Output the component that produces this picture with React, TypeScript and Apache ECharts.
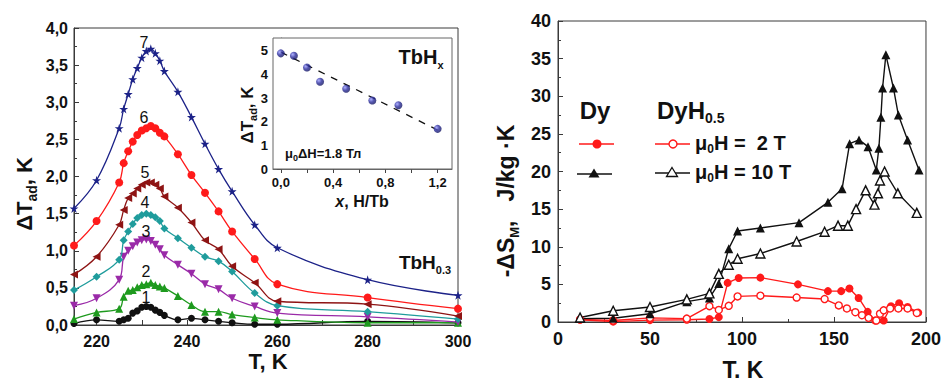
import React, { useEffect, useRef } from "react";
import * as echarts from "echarts";

const FONT = "'Liberation Sans', Arial, Helvetica, sans-serif";

// ---------- Left panel: TbH0.3, ΔTad(T) ----------
const T_MAIN = [215, 220, 225, 226, 227, 228, 229, 230, 231, 232, 233, 234, 235, 238, 241, 244, 247, 250, 255, 260, 280, 300];
const CURVE_1 = [0.02, 0.07, 0.05, 0.07, 0.09, 0.16, 0.19, 0.24, 0.25, 0.24, 0.2, 0.17, 0.13, 0.07, 0.09, 0.07, 0.05, 0.03, 0.01, 0.01, 0.05, 0.03];
const CURVE_2 = [0.08, 0.17, 0.22, 0.38, 0.46, 0.47, 0.51, 0.54, 0.55, 0.57, 0.54, 0.52, 0.5, 0.39, 0.27, 0.18, 0.18, 0.14, 0.1, 0.07, 0.03, 0.03];
const CURVE_3 = [0.26, 0.36, 0.61, 0.92, 1.0, 1.06, 1.11, 1.14, 1.15, 1.13, 1.08, 1.02, 0.94, 0.81, 0.69, 0.55, 0.48, 0.36, 0.25, 0.16, 0.11, 0.04];
const CURVE_4 = [0.47, 0.65, 0.88, 1.14, 1.26, 1.36, 1.44, 1.48, 1.5, 1.48, 1.45, 1.4, 1.3, 1.17, 1.04, 0.92, 0.86, 0.72, 0.43, 0.26, 0.18, 0.08];
const CURVE_5 = [0.68, 0.92, 1.35, 1.55, 1.71, 1.77, 1.84, 1.89, 1.92, 1.92, 1.89, 1.84, 1.73, 1.58, 1.38, 1.14, 1.02, 0.79, 0.57, 0.32, 0.28, 0.12];
const CURVE_6 = [1.07, 1.4, 1.92, 2.18, 2.34, 2.47, 2.56, 2.62, 2.65, 2.68, 2.65, 2.59, 2.54, 2.3, 2.02, 1.78, 1.53, 1.26, 0.89, 0.55, 0.37, 0.22];
const CURVE_7 = [1.57, 1.95, 2.65, 2.91, 3.11, 3.31, 3.46, 3.6, 3.69, 3.72, 3.66, 3.56, 3.42, 3.14, 2.8, 2.44, 2.1, 1.8, 1.35, 1.04, 0.61, 0.4];
const CURVE_LABELS = ["1", "2", "3", "4", "5", "6", "7"];
const MAIN_X_LABELS = [220, 240, 260, 280, 300];
const MAIN_X_TICKS = [220, 230, 240, 250, 260, 270, 280, 290, 300];

// ---------- Inset: TbHx, ΔTad(x) ----------
const INSET_X = [0, 0.1, 0.2, 0.3, 0.5, 0.7, 0.9, 1.2];
const INSET_Y = [4.9, 4.8, 4.3, 3.7, 3.4, 2.9, 2.7, 1.7];
const FIT_X = [0, 1.2];
const FIT_Y = [4.95, 1.65];
const INSET_X_LABELS = [0, 0.4, 0.8, 1.2];
const INSET_X_TICKS = [0, 0.2, 0.4, 0.6, 0.8, 1.0, 1.2];
const INSET_Y_LABELS = [0, 1, 2, 3, 4, 5];

// ---------- Right panel: -ΔSM(T) ----------
const DY_2T_T = [12, 30, 50, 70, 82.3, 87.4, 92.2, 98.2, 110, 130.4, 146.7, 153.9, 158.4, 163.4, 168.3, 172.4, 177, 181, 185.4, 190, 195.8];
const DY_2T_V = [0.3, 0.05, 0.25, 0.3, 0.4, 0.65, 5.2, 5.85, 5.9, 5.0, 4.1, 4.1, 4.45, 3.2, 1.35, 0.2, 0.2, 2.1, 2.5, 2.0, 1.25];
const DYH_2T_T = [12, 30, 50, 70, 82.3, 87.4, 92.8, 97.6, 110, 129.7, 144.9, 152.6, 157, 161.6, 165.2, 168.8, 173, 175, 177, 180.5, 185, 190, 195];
const DYH_2T_V = [0.35, 0.2, 0.55, 0.45, 2.1, 1.6, 2.15, 3.4, 3.5, 3.25, 3.05, 2.2, 1.8, 1.3, 0.9, 0.55, 0.2, 1.1, 1.55, 1.8, 1.8, 1.8, 1.2];
const DY_10T_T = [12, 30, 50, 70, 82.3, 87.4, 92.8, 97.6, 110, 131, 146.7, 154.4, 158.5, 163.6, 168.5, 173, 174.4, 175.5, 176.4, 178.2, 182.3, 185, 190, 196.2];
const DY_10T_V = [0.45, 0.5, 1.1, 2.7, 3.2, 5.1, 9.75, 12.1, 12.5, 13.2, 15.9, 17.7, 23.7, 24.2, 23.3, 20.2, 23.1, 27.2, 31.1, 35.5, 31.1, 27.5, 24.2, 20.2];
const DYH_10T_T = [12, 30, 50, 70, 82.3, 87.4, 92.8, 97.6, 110, 129.7, 144.9, 152.2, 157.5, 162, 167.2, 172, 173.9, 175, 177.5, 184.7, 195];
const DYH_10T_V = [0.6, 1.5, 2.0, 3.0, 3.8, 6.4, 7.6, 8.4, 9.1, 10.7, 12.0, 12.8, 12.8, 15.0, 17.5, 15.6, 17.1, 18.8, 20.0, 17.1, 14.5];

const zip = (xs: number[], ys: number[]) => xs.map((x, i) => [x, ys[i]]);
const comma = (v: number, d: number) => v.toFixed(d).replace(".", ",");

const STAR = "path://M50,0 L61,35 L98,35 L68,57 L79,91 L50,70 L21,91 L32,57 L2,35 L39,35 Z";
const AXIS_COLOR = "#3a3a3a";

function buildOption(): any {
  const curves = [CURVE_1, CURVE_2, CURVE_3, CURVE_4, CURVE_5, CURVE_6, CURVE_7];
  const styles = [
    { color: "#111111", symbol: "circle", size: 7, rot: 0 },
    { color: "#1e9a1e", symbol: "triangle", size: 8, rot: 0 },
    { color: "#9a2aa8", symbol: "triangle", size: 8, rot: 180 },
    { color: "#1f9c9c", symbol: "diamond", size: 8, rot: 0 },
    { color: "#8e1414", symbol: "triangle", size: 8, rot: 90 },
    { color: "#ff1a1a", symbol: "circle", size: 8, rot: 0 },
    { color: "#1c2288", symbol: STAR, size: 9, rot: 0 },
  ];
  const mainSeries = curves.map((c, i) => ({
    type: "line",
    name: CURVE_LABELS[i],
    xAxisIndex: 0,
    yAxisIndex: 0,
    data: zip(T_MAIN, c),
    smooth: 0.4,
    symbol: styles[i].symbol,
    symbolSize: styles[i].size,
    symbolRotate: styles[i].rot,
    lineStyle: { color: styles[i].color, width: 1.3 },
    itemStyle: { color: styles[i].color },
    z: 3 + i,
  }));

  const tickLabel = (size: number, margin: number) => ({
    fontFamily: FONT,
    fontSize: size,
    fontWeight: "bold",
    color: "#111",
    margin,
  });
  const axisLine = { show: true, lineStyle: { color: AXIS_COLOR, width: 1 } };

  const rightLine = (t: number[], v: number[], color: string, symbol: string, size: number, open: boolean) => ({
    type: "line",
    xAxisIndex: 2,
    yAxisIndex: 2,
    data: zip(t, v),
    symbol,
    symbolSize: size,
    lineStyle: { color, width: 1.4 },
    itemStyle: open
      ? { color: "#ffffff", borderColor: color, borderWidth: 1.4 }
      : { color, borderColor: color, borderWidth: 0 },
    z: 5,
  });

  const txt = (x: number, y: number, text: string, rich: any, extra: any = {}) => ({
    type: "text",
    x,
    y,
    z: 100,
    ...extra,
    style: { text, rich, fontFamily: FONT, align: "center", verticalAlign: "middle", fill: "#111", ...(extra.style || {}) },
  });

  const rb = (size: number, lh: number, weight = "bold", extra: any = {}) => ({
    fontFamily: FONT,
    fontSize: size,
    fontWeight: weight,
    lineHeight: lh,
    fill: "#111",
    ...extra,
  });

  const num = (x: number, y: number, t: string) => txt(x, y, t, {}, { style: { fontSize: 16, fill: "#111" } });

  const graphics: any[] = [
    // left panel titles
    txt(24, 194, "{a|ΔT}{s|ad}{a|, K}", { a: rb(22, 30), s: rb(14, 14, "bold", { verticalAlign: "bottom" }) }, { rotation: Math.PI / 2 }),
    txt(268, 361, "{a|T, K}", { a: rb(22, 22) }),
    // curve numbers
    num(144, 42, "7"),
    num(144, 117, "6"),
    num(145, 172, "5"),
    num(145, 202, "4"),
    num(146, 231, "3"),
    num(146, 271, "2"),
    num(146, 297, "1"),
    txt(425, 262, "{a|TbH}{s|0.3}", { a: rb(19, 26), s: rb(11, 11, "bold", { verticalAlign: "bottom" }) }),
    // inset texts
    txt(247, 115, "{a|ΔT}{s|ad}{a|, K}", { a: rb(17, 22), s: rb(11, 11, "bold", { verticalAlign: "bottom" }) }, { rotation: Math.PI / 2 }),
    txt(362, 201, "{i|x}{a|, H/Tb}", { a: rb(16, 20), i: rb(16, 20, "bold", { fontStyle: "italic" }) }),
    txt(421, 57, "{a|TbH}{s|x}", { a: rb(20, 26), s: rb(11, 11, "bold", { verticalAlign: "bottom" }) }),
    txt(285, 153, "{a|μ}{s|0}{a|ΔH=1.8 Тл}", { a: rb(13, 18), s: rb(9, 9, "bold", { verticalAlign: "bottom" }) }, { style: { align: "left" } }),
    // right panel titles
    txt(506, 201, "{a|-ΔS}{s|M}{a|,   J/kg ·K}", { a: rb(23, 30), s: rb(13, 13, "bold", { verticalAlign: "bottom" }) }, { rotation: Math.PI / 2 }),
    txt(743, 370, "{a|T. K}", { a: rb(23, 24) }),
    // legend
    txt(595, 110, "{a|Dy}", { a: rb(24, 28) }),
    txt(657, 110, "{a|DyH}{s|0.5}", { a: rb(24, 30), s: rb(14, 14, "bold", { verticalAlign: "bottom" }) }, { style: { align: "left" } }),
    txt(695, 143, "{a|μ}{s|0}{a|H =  2 T}", { a: rb(20, 24), s: rb(12, 12, "bold", { verticalAlign: "bottom" }) }, { style: { align: "left" } }),
    txt(695, 172, "{a|μ}{s|0}{a|H = 10 T}", { a: rb(20, 24), s: rb(12, 12, "bold", { verticalAlign: "bottom" }) }, { style: { align: "left" } }),
    { type: "line", z: 100, shape: { x1: 579, y1: 144, x2: 614, y2: 144 }, style: { stroke: "#ff1a1a", lineWidth: 1.6 } },
    { type: "circle", z: 101, shape: { cx: 597, cy: 144, r: 4.5 }, style: { fill: "#ff1a1a" } },
    { type: "line", z: 100, shape: { x1: 577, y1: 174, x2: 612, y2: 174 }, style: { stroke: "#111", lineWidth: 1.6 } },
    { type: "polygon", z: 101, shape: { points: [[594, 168.5], [599.5, 177.5], [588.5, 177.5]] }, style: { fill: "#111" } },
    { type: "line", z: 100, shape: { x1: 655, y1: 144, x2: 690, y2: 144 }, style: { stroke: "#ff1a1a", lineWidth: 1.4 } },
    { type: "circle", z: 101, shape: { cx: 673, cy: 144, r: 4 }, style: { fill: "#fff", stroke: "#ff1a1a", lineWidth: 1.4 } },
    { type: "line", z: 100, shape: { x1: 655, y1: 173, x2: 690, y2: 173 }, style: { stroke: "#111", lineWidth: 1.4 } },
    { type: "polygon", z: 101, shape: { points: [[672, 167.5], [677.5, 176.5], [666.5, 176.5]] }, style: { fill: "#fff", stroke: "#111", lineWidth: 1.3 } },
  ];

  return {
    animation: false,
    backgroundColor: "#ffffff",
    textStyle: { fontFamily: FONT },
    grid: [
      { left: 74, top: 28, width: 384, height: 297, show: true, borderColor: AXIS_COLOR, borderWidth: 1, backgroundColor: "transparent" },
      { left: 273, top: 38, width: 179, height: 131, show: true, borderColor: "#666", borderWidth: 1, backgroundColor: "#ffffff", z: 1 },
      { left: 558, top: 21, width: 370, height: 301, show: true, borderColor: AXIS_COLOR, borderWidth: 1, backgroundColor: "transparent" },
    ],
    xAxis: [
      {
        type: "value", gridIndex: 0, min: 215, max: 300,
        axisLine, splitLine: { show: false },
        axisTick: { show: true, inside: true, length: 5, customValues: MAIN_X_TICKS, lineStyle: { color: AXIS_COLOR } },
        axisLabel: { ...tickLabel(16, 8), customValues: MAIN_X_LABELS },
      },
      {
        type: "value", gridIndex: 1, min: -0.06, max: 1.31,
        axisLine: { show: true, lineStyle: { color: "#666" } }, splitLine: { show: false },
        axisTick: { show: true, inside: false, length: 4, customValues: INSET_X_TICKS, lineStyle: { color: "#444" } },
        axisLabel: { ...tickLabel(13, 7), customValues: INSET_X_LABELS, formatter: (v: number) => comma(v, 1) },
      },
      {
        type: "value", gridIndex: 2, min: 0, max: 200, interval: 50,
        axisLine, splitLine: { show: false },
        axisTick: { show: true, inside: true, length: 5, lineStyle: { color: AXIS_COLOR } },
        minorTick: { show: true, splitNumber: 2, length: 3, lineStyle: { color: AXIS_COLOR } },
        axisLabel: tickLabel(18, 8),
      },
    ],
    yAxis: [
      {
        type: "value", gridIndex: 0, min: 0, max: 4, interval: 0.5,
        axisLine, splitLine: { show: false },
        axisTick: { show: true, inside: true, length: 5, lineStyle: { color: AXIS_COLOR } },
        minorTick: { show: true, splitNumber: 2, length: 3, lineStyle: { color: AXIS_COLOR } },
        axisLabel: { ...tickLabel(16, 6), formatter: (v: number) => comma(v, 1) },
      },
      {
        type: "value", gridIndex: 1, min: 0, max: 5.55,
        axisLine: { show: true, lineStyle: { color: "#666" } }, splitLine: { show: false },
        axisTick: { show: true, inside: false, length: 4, customValues: INSET_Y_LABELS, lineStyle: { color: "#444" } },
        axisLabel: { ...tickLabel(13, 5), customValues: INSET_Y_LABELS },
      },
      {
        type: "value", gridIndex: 2, min: 0, max: 40, interval: 5,
        axisLine, splitLine: { show: false },
        axisTick: { show: true, inside: true, length: 5, lineStyle: { color: AXIS_COLOR } },
        minorTick: { show: true, splitNumber: 2, length: 3, lineStyle: { color: AXIS_COLOR } },
        axisLabel: tickLabel(18, 7),
      },
    ],
    series: [
      ...mainSeries,
      {
        type: "line",
        xAxisIndex: 1,
        yAxisIndex: 1,
        data: zip(FIT_X, FIT_Y),
        symbol: "none",
        lineStyle: { color: "#111", width: 1.3, type: [7, 7] },
        z: 10,
      },
      {
        type: "scatter",
        xAxisIndex: 1,
        yAxisIndex: 1,
        data: zip(INSET_X, INSET_Y),
        symbolSize: 8,
        itemStyle: {
          color: new echarts.graphic.RadialGradient(0.35, 0.35, 0.7, [
            { offset: 0, color: "#9a9cff" },
            { offset: 0.5, color: "#2a2c9c" },
            { offset: 1, color: "#14165e" },
          ]),
        },
        z: 11,
      },
      rightLine(DY_2T_T, DY_2T_V, "#ff1a1a", "circle", 8, false),
      rightLine(DYH_2T_T, DYH_2T_V, "#ff1a1a", "circle", 7, true),
      rightLine(DY_10T_T, DY_10T_V, "#111111", "triangle", 9, false),
      rightLine(DYH_10T_T, DYH_10T_V, "#111111", "triangle", 9, true),
    ],
    graphic: graphics,
  };
}

export default function App() {
  const ref = useRef<HTMLDivElement>(null);
  useEffect(() => {
    document.body.style.margin = "0";
    const chart = echarts.init(ref.current as HTMLDivElement, null, { renderer: "svg" });
    chart.setOption(buildOption());
    return () => chart.dispose();
  }, []);
  return <div ref={ref} style={{ width: 944, height: 383, background: "#fff" }} />;
}
